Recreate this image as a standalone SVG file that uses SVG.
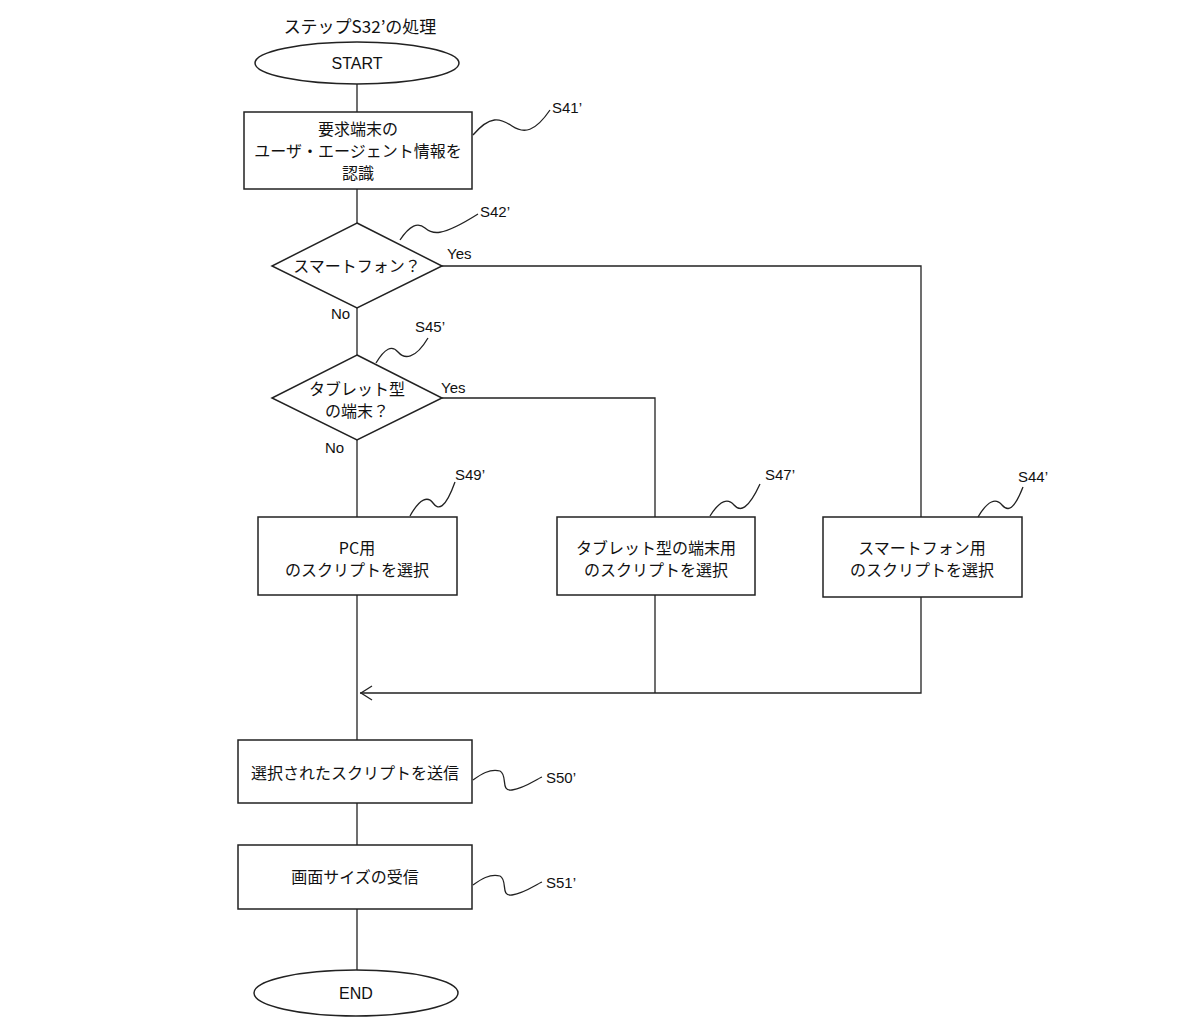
<svg xmlns="http://www.w3.org/2000/svg" width="1190" height="1030" viewBox="0 0 1190 1030">
<style>
.s{fill:#fff;stroke:#222;stroke-width:1.5}
.l{fill:none;stroke:#222;stroke-width:1.3}
.j{font-family:"Noto Sans CJK JP","Liberation Sans",sans-serif;font-size:16px;fill:#111;text-anchor:middle}
.t{font-family:"Liberation Sans",Arial,sans-serif;font-size:15px;fill:#111}
.c{font-family:"Liberation Sans",Arial,sans-serif;font-size:16px;fill:#111;text-anchor:middle}
</style>
<rect width="1190" height="1030" fill="#fff"/>
<text class="j" x="360" y="33" style="font-size:17px">ステップS32’の処理</text>
<g id="connectors">
<path class="l" d="M357,84V112M357,189V223M357,308V355M357,440V517M357,595V740M357,803V845M357,909V971"/>
<path class="l" d="M442,266H921V517M921,597V693H360"/>
<path class="l" d="M442,398H655V517M655,595V693"/>
<path class="l" d="M372,686L361,693L372,700"/>
<text class="t" x="447" y="259">Yes</text>
<text class="t" x="331" y="319">No</text>
<text class="t" x="441" y="393">Yes</text>
<text class="t" x="325" y="453">No</text>
</g>
<g id="start"><ellipse class="s" cx="357" cy="63" rx="102" ry="21"/><text class="c" x="357" y="69">START</text></g>
<g id="s41">
<rect class="s" x="244" y="112" width="228" height="77"/>
<text class="j" x="358" y="135">要求端末の</text>
<text class="j" x="358" y="157">ユーザ・エージェント情報を</text>
<text class="j" x="358" y="179">認識</text>
<path class="l" d="M473,135C490,115 500,118 512,126S535,132 550,110"/>
<text class="t" x="552" y="113">S41’</text>
</g>
<g id="s42">
<polygon class="s" points="357,223 442,266 357,308 272,266"/>
<text class="j" x="357" y="272">スマートフォン？</text>
<path class="l" d="M400,240C410,225 418,222 425,228S440,238 478,214"/>
<text class="t" x="480" y="217">S42’</text>
</g>
<g id="s45">
<polygon class="s" points="357,355 442,398 357,440 272,398"/>
<text class="j" x="357" y="395">タブレット型</text>
<text class="j" x="357" y="417">の端末？</text>
<path class="l" d="M376,363C385,348 392,345 398,352S415,360 428,338"/>
<text class="t" x="415" y="332">S45’</text>
</g>
<g id="s49">
<rect class="s" x="258" y="517" width="199" height="78"/>
<text class="j" x="357" y="554">PC用</text>
<text class="j" x="357" y="576">のスクリプトを選択</text>
<path class="l" d="M410,516C420,498 428,496 433,503S445,510 455,482"/>
<text class="t" x="455" y="480">S49’</text>
</g>
<g id="s47">
<rect class="s" x="557" y="517" width="198" height="78"/>
<text class="j" x="656" y="554">タブレット型の端末用</text>
<text class="j" x="656" y="576">のスクリプトを選択</text>
<path class="l" d="M710,516C720,500 728,498 734,505S748,510 760,484"/>
<text class="t" x="765" y="480">S47’</text>
</g>
<g id="s44">
<rect class="s" x="823" y="517" width="199" height="80"/>
<text class="j" x="922" y="554">スマートフォン用</text>
<text class="j" x="922" y="576">のスクリプトを選択</text>
<path class="l" d="M978,517C988,500 996,498 1002,505S1014,510 1023,487"/>
<text class="t" x="1018" y="482">S44’</text>
</g>
<g id="s50">
<rect class="s" x="238" y="740" width="234" height="63"/>
<text class="j" x="355" y="779">選択されたスクリプトを送信</text>
<path class="l" d="M473,780C480,775 490,768 500,771C508,775 500,792 512,790C525,788 535,780 542,777"/>
<text class="t" x="546" y="783">S50’</text>
</g>
<g id="s51">
<rect class="s" x="238" y="845" width="234" height="64"/>
<text class="j" x="355" y="883">画面サイズの受信</text>
<path class="l" d="M473,885C480,880 490,873 500,876C508,880 500,897 512,895C525,893 535,885 542,882"/>
<text class="t" x="546" y="888">S51’</text>
</g>
<g id="end"><ellipse class="s" cx="356" cy="993" rx="102" ry="23"/><text class="c" x="356" y="999">END</text></g>
</svg>
